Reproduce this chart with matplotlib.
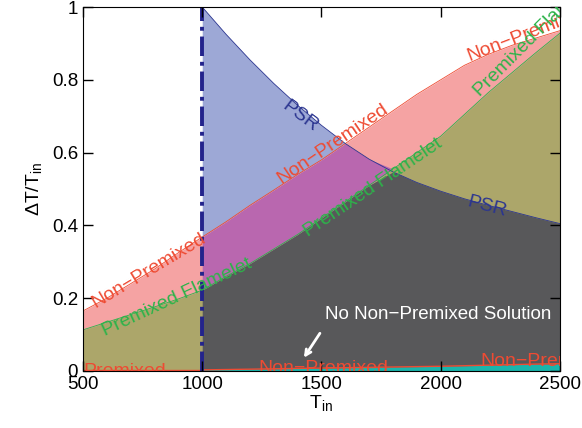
import numpy as np
import matplotlib
matplotlib.use('Agg')
from matplotlib import pyplot as plt

plt.rcParams['font.family'] = ['Liberation Sans', 'DejaVu Sans']
plt.rcParams['mathtext.fontset'] = 'custom'
plt.rcParams['mathtext.rm'] = 'Liberation Sans'
plt.rcParams['mathtext.it'] = 'Liberation Sans'

# 入口温度
t_in = [500, 600, 700, 800, 900, 1000, 1100, 1200, 1300, 1400, 1500,
        1600, 1700, 1800, 1900, 2000, 2100, 2200, 2300, 2400, 2500]
# Non-Premixed 上界
non_premixed = [0.165, 0.20, 0.24, 0.28, 0.325, 0.368, 0.41, 0.455, 0.497, 0.54, 0.58,
                0.625, 0.67, 0.715, 0.76, 0.80, 0.84, 0.87, 0.895, 0.915, 0.935]
# Premixed Flamelet
flamelet = [0.113, 0.134, 0.155, 0.176, 0.198, 0.222, 0.26, 0.295, 0.335, 0.375, 0.42,
            0.465, 0.51, 0.555, 0.60, 0.645, 0.705, 0.765, 0.82, 0.875, 0.928]
# PSR (T_in >= 1000)
t_psr = [1000, 1100, 1200, 1300, 1400, 1500, 1600, 1700, 1800,
         1900, 2000, 2100, 2200, 2300, 2400, 2500]
psr = [1.0, 0.925, 0.855, 0.79, 0.73, 0.675, 0.625, 0.582, 0.547,
       0.518, 0.494, 0.473, 0.455, 0.438, 0.421, 0.405]
# 底部 Non-Premixed 下界
bottom = [0.003, 0.004, 0.005, 0.006, 0.007, 0.008, 0.009, 0.010, 0.011,
          0.012, 0.013, 0.0145, 0.016, 0.0175, 0.019, 0.02]

c_blue = '#9DA8D6'
c_pink = '#F5A3A3'
c_olive = '#ACA66A'
c_gray = '#58585A'
c_mag = '#B967AF'
c_cyan = '#19B5AC'
c_red = '#EE4B33'
c_green = '#2DB34A'
c_navy = '#2B3590'

x = np.array(t_in)
red = np.array(non_premixed)
grn = np.array(flamelet)
xp = np.array(t_psr)
ps = np.array(psr)
r2 = red[5:]
g2 = grn[5:]

plt.figure(figsize=(5.82, 4.28), dpi=100)
ax = plt.axes([0.1426, 0.1332, 0.8194, 0.8504])

ax.fill_between(x, 0, red, color=c_pink, lw=0)
ax.fill_between(x, 0, grn, color=c_olive, lw=0)
ax.fill_between(xp, r2, np.maximum(ps, r2), color=c_blue, lw=0)
ax.fill_between(xp, g2, np.maximum(np.minimum(ps, r2), g2), color=c_mag, lw=0)
ax.fill_between(xp, 0, np.minimum(ps, g2), color=c_gray, lw=0)
ax.fill_between(xp, 0, bottom, color=c_cyan, lw=0)

ax.plot(x, red, color=c_red, lw=0.6)
ax.plot(x, grn, color=c_green, lw=0.6)
ax.plot(xp, ps, color=c_navy, lw=0.6)
ax.plot(xp, bottom, color=c_red, lw=1.0)
ax.plot([500, 1000], [0.004, 0.004], color=c_red, lw=1.0)
ax.plot([1000, 1000], [0, 1], color='#23238C', lw=2.8, ls=(0, (5, 1.5, 1, 1.5)))

fs = 14
lbl = dict(fontsize=fs, ha='center', va='center', rotation_mode='anchor', clip_on=True)
edge = dict(fontsize=fs, ha='left', va='baseline', rotation_mode='anchor', clip_on=True)
ax.text(1410, 0.70, 'PSR', color=c_navy, rotation=-37, **lbl)
ax.text(2194, 0.45, 'PSR', color=c_navy, rotation=-15, **lbl)
ax.text(1548, 0.624, 'Non\u2212Premixed', color=c_red, rotation=34, **lbl)
ax.text(777, 0.275, 'Non\u2212Premixed', color=c_red, rotation=31, **lbl)
ax.text(2120, 0.852, 'Non\u2212Premixed', color=c_red, rotation=21, **edge)
ax.text(894, 0.203, 'Premixed Flamelet', color=c_green, rotation=25, **lbl)
ax.text(1716, 0.505, 'Premixed Flamelet', color=c_green, rotation=34, **lbl)
ax.text(2165, 0.752, 'Premixed Flamelet', color=c_green, rotation=45, **edge)
ax.text(500, -0.002, 'Premixed', color=c_red, fontsize=fs, ha='left', va='center', clip_on=True)
ax.text(1507, 0.006, 'Non\u2212Premixed', color=c_red, **lbl)
ax.text(2165, 0.025, 'Non\u2212Premixed', color=c_red, fontsize=fs, ha='left', va='center',
        clip_on=True)

ax.text(1515, 0.154, 'No Non\u2212Premixed Solution', color='white', fontsize=13.5,
        ha='left', va='center')
ax.annotate('', xy=(1420, 0.03), xytext=(1500, 0.11),
            arrowprops=dict(arrowstyle='->', color='white', lw=2))

ax.set_xlim(500, 2500)
ax.set_ylim(0, 1)
ax.set_xticks([500, 1000, 1500, 2000, 2500])
ax.set_yticks([0, 0.2, 0.4, 0.6, 0.8, 1])
ax.set_yticklabels(['0', '0.2', '0.4', '0.6', '0.8', '1'])
ax.tick_params(direction='in', length=7, width=1, top=True, right=True, labelsize=13.5)
ax.set_xlabel(r'T$_{\mathregular{in}}$', fontsize=14, labelpad=0)
ax.set_ylabel(r'$\Delta$T/T$_{\mathregular{in}}$', fontsize=14, labelpad=6)
ax.set_axisbelow(False)

plt.savefig('out.png', dpi=100)
